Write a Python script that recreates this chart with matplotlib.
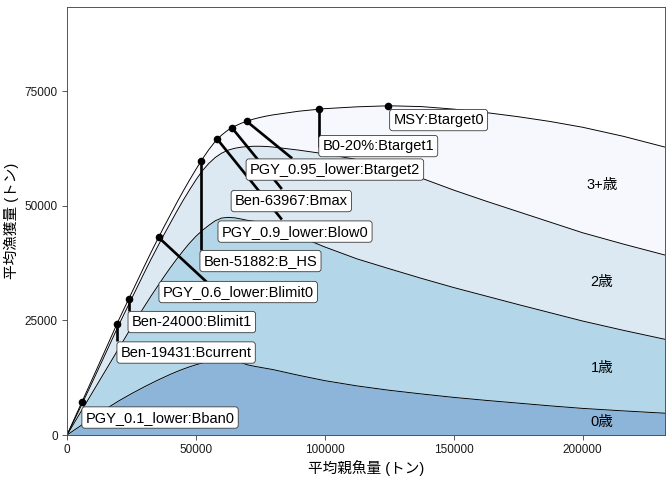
import numpy as np
import matplotlib
matplotlib.use("Agg")
import matplotlib.pyplot as plt

plt.rcParams['font.family'] = ['Liberation Sans', 'Noto Sans CJK JP', 'DejaVu Sans']

# DATA
# average spawning biomass grid (t)
biomass = [0, 5000, 10000, 15000, 20000, 25000, 30000, 32500, 35000, 37500,
           40000, 42500, 45000, 47500, 50000, 52500, 55000, 57500, 60000, 62500,
           65000, 67500, 70000, 72500, 75000, 77500, 80000, 90000, 100000, 112500,
           125000, 137500, 150000, 162500, 175000, 187500, 200000, 216000, 232000]

# average catch by age (t)
catch_age0 = [0, 1900, 3800, 5650, 7400, 9000, 10500, 11200, 11900, 12550,
              13200, 13800, 14350, 14850, 15300, 15700, 16000, 16200, 16300, 16300,
              16200, 15800, 15300, 15000, 14750, 14500, 14250, 13000, 11850, 10700,
              9750, 8950, 8200, 7550, 6950, 6350, 5800, 5250, 4750]
catch_age1 = [0, 2800, 5600, 8450, 11400, 14500, 17500, 19000, 20400, 21850,
              23200, 24500, 25750, 26950, 28000, 28900, 29700, 30500, 31000, 31150,
              31150, 31300, 31500, 31600, 31550, 31400, 31250, 30300, 29150, 27700,
              26500, 25200, 23950, 22750, 21500, 20300, 19050, 17550, 16110]
catch_age2 = [0, 1080, 2350, 3700, 5100, 6150, 7400, 8000, 8600, 9150,
              9700, 10350, 11000, 11600, 12300, 13000, 13500, 13800, 14150, 14650,
              15150, 15650, 16080, 16350, 16650, 17000, 17280, 18800, 20300, 21650,
              22050, 21850, 21250, 20700, 20250, 19750, 19250, 18800, 18370]
catch_age3 = [0, 450, 700, 900, 1100, 1250, 1400, 1500, 1600, 1700,
              1800, 1900, 2000, 2150, 2300, 2550, 3000, 3500, 3950, 4400,
              4800, 5200, 5570, 5950, 6300, 6650, 7020, 8500, 9850, 11500,
              13480, 15600, 17650, 19300, 20700, 21950, 23000, 23500, 23540]
age_names = ["0歳", "1歳", "2歳", "3+歳"]
age_colors = ["#8DB4D9", "#B3D6E9", "#DCE9F2", "#F6F8FD"]

# reference points
ref_names = ["PGY_0.1_lower:Bban0", "Ben-19431:Bcurrent", "Ben-24000:Blimit1",
             "PGY_0.6_lower:Blimit0", "Ben-51882:B_HS", "PGY_0.9_lower:Blow0",
             "Ben-63967:Bmax", "PGY_0.95_lower:Btarget2", "B0-20%:Btarget1",
             "MSY:Btarget0"]
ref_B = [5720, 19431, 24000, 35530, 51882, 58300, 63967, 69700, 97700, 124600]
ref_Y = [7120, 24300, 29750, 43080, 59650, 64500, 66990, 68400, 71030, 71770]

# label placement (left edge of text, vertical centre) and leader line ends
label_pos = [(7200, 3810), (20800, 17980), (25100, 24630), (37100, 31170),
             (53000, 37925), (60000, 44350), (65100, 51000), (70900, 57870),
             (99100, 62990), (126600, 68660)]
seg_end = [None, (19431, 20490), (24000, 27030), (54200, 33350),
           (51882, 40320), (83360, 46980), (83360, 53620), (87350, 60310),
           (97700, 62880), None]

# PLOT
B = np.array(biomass)
layers = np.array([catch_age0, catch_age1, catch_age2, catch_age3])
cum = np.cumsum(layers, axis=0)
lower = np.vstack([np.zeros_like(B), cum[:-1]])

fig = plt.figure(figsize=(7, 5), dpi=96)
ax = fig.add_axes([67 / 672, 1 - 435 / 480, 598 / 672, 428 / 480])

for i in range(4):
    ax.fill_between(B, lower[i], cum[i], color=age_colors[i], lw=0, zorder=1)
    ax.plot(B, cum[i], color="black", lw=0.7, zorder=2)

# age labels at band midpoints
x_lab = 207500
for i in range(4):
    y_mid = (np.interp(x_lab, B, lower[i]) + np.interp(x_lab, B, cum[i])) / 2
    ax.text(x_lab, y_mid, age_names[i], ha="center", va="center", fontsize=11, zorder=3)

# leader lines
for b, y, end in zip(ref_B, ref_Y, seg_end):
    if end is not None:
        ax.plot([b, end[0]], [y, end[1]], color="black", lw=2.0,
                solid_capstyle="butt", zorder=4)

ax.scatter(ref_B, ref_Y, s=22, color="black", zorder=5)

for name, (lx, ly) in zip(ref_names, label_pos):
    ax.text(lx, ly, name, ha="left", va="center", fontsize=11, zorder=6,
            bbox=dict(boxstyle="round,pad=0.25,rounding_size=0.2",
                      fc="white", ec="#333333", lw=0.6))

ax.set_xlim(0, B.max())
ax.set_ylim(0, 1.3 * cum[-1].max())
ax.set_xticks([0, 50000, 100000, 150000, 200000])
ax.set_yticks([0, 25000, 50000, 75000])
ax.xaxis.set_major_formatter(matplotlib.ticker.FuncFormatter(lambda v, p: f"{int(v)}"))
ax.yaxis.set_major_formatter(matplotlib.ticker.FuncFormatter(lambda v, p: f"{int(v)}"))
ax.tick_params(labelsize=8.8, length=3.5, width=0.6, color="#333333", labelcolor="#1a1a1a")
for sp in ax.spines.values():
    sp.set_color("#4d4d4d")
    sp.set_linewidth(0.7)

ax.set_xlabel("平均親魚量 (トン)", fontsize=11, labelpad=3)
ax.set_ylabel("平均漁獲量 (トン)", fontsize=11, labelpad=4)

fig.savefig("out.png", dpi=96)
